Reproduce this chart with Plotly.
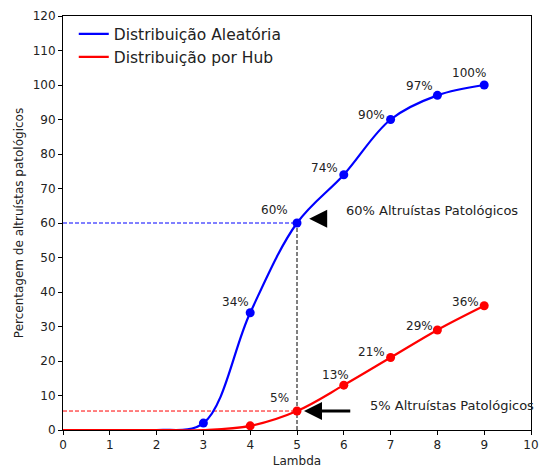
import plotly.graph_objects as go

lam = [0, 1, 2, 3, 4, 5, 6, 7, 8, 9]
aleatoria = [0, 0, 0, 2, 34, 60, 74, 90, 97, 100]
hub = [0, 0, 0, 0, 1.2, 5.5, 13, 21, 29, 36]

blue_marker_x = [3, 4, 5, 6, 7, 8, 9]
blue_marker_y = [2, 34, 60, 74, 90, 97, 100]
red_marker_x = [4, 5, 6, 7, 8, 9]
red_marker_y = [1.2, 5.5, 13, 21, 29, 36]

blue_lab_x = [4, 5, 6, 7, 8, 9]
blue_lab_y = [34, 60, 74, 90, 97, 100]
blue_labels = ["34%", "60%", "74%", "90%", "97%", "100%"]
red_lab_x = [5, 6, 7, 8, 9]
red_lab_y = [5.5, 13, 21, 29, 36]
red_labels = ["5%", "13%", "21%", "29%", "36%"]

lambda_ref = 5
blue_ref = 60
red_ref = 5.5

FONT = "DejaVu Sans"
TXT = "#222"
fig = go.Figure()

# reference dashed lines
fig.add_trace(go.Scatter(x=[0, lambda_ref], y=[blue_ref, blue_ref], mode="lines",
                         line=dict(color="blue", width=1, dash="4px,2px"), showlegend=False, hoverinfo="skip"))
fig.add_trace(go.Scatter(x=[0, lambda_ref], y=[red_ref, red_ref], mode="lines",
                         line=dict(color="red", width=1, dash="4px,2px"), showlegend=False, hoverinfo="skip"))
fig.add_trace(go.Scatter(x=[lambda_ref, lambda_ref], y=[0, blue_ref], mode="lines",
                         line=dict(color="black", width=1, dash="4px,2px"), showlegend=False, hoverinfo="skip"))

fig.add_trace(go.Scatter(x=lam, y=aleatoria, mode="lines", name="Distribuição Aleatória",
                         line=dict(color="blue", width=2.2, shape="spline", smoothing=1.0)))
fig.add_trace(go.Scatter(x=lam, y=hub, mode="lines", name="Distribuição por Hub",
                         line=dict(color="red", width=2.2, shape="spline", smoothing=1.0)))
fig.add_trace(go.Scatter(x=blue_marker_x, y=blue_marker_y, mode="markers",
                         marker=dict(color="blue", size=9), showlegend=False))
fig.add_trace(go.Scatter(x=red_marker_x, y=red_marker_y, mode="markers",
                         marker=dict(color="red", size=9), showlegend=False))

# value labels
blue_off = [(-15, 11), (-23, 13), (-19, 7), (-19, 5), (-18, 9), (-15, 12)]
red_off = [(-18, 13), (-8, 10), (-19, 6), (-18, 4), (-19, 4)]
for x, y, t, (dx, dy) in zip(blue_lab_x, blue_lab_y, blue_labels, blue_off):
    fig.add_annotation(x=x, y=y, text=t, showarrow=False, xshift=dx, yshift=dy,
                       font=dict(family=FONT, size=12, color=TXT))
for x, y, t, (dx, dy) in zip(red_lab_x, red_lab_y, red_labels, red_off):
    fig.add_annotation(x=x, y=y, text=t, showarrow=False, xshift=dx, yshift=dy,
                       font=dict(family=FONT, size=12, color=TXT))

# arrows
fig.add_annotation(x=5.26, y=61.2, ax=5.64, ay=61.2, axref="x", ayref="y", xref="x", yref="y",
                   text="", showarrow=True, arrowhead=2, arrowsize=1.2, arrowwidth=3, arrowcolor="black")
fig.add_annotation(x=5.15, y=red_ref, ax=6.17, ay=red_ref, axref="x", ayref="y", xref="x", yref="y",
                   text="", showarrow=True, arrowhead=2, arrowsize=1.2, arrowwidth=3, arrowcolor="black")
fig.add_annotation(x=6.0, y=63.5, text="60% Altruístas Patológicos", showarrow=False, xanchor="left",
                   font=dict(family=FONT, size=13, color=TXT))
fig.add_annotation(x=6.52, y=7.0, text="5% Altruístas Patológicos", showarrow=False, xanchor="left",
                   font=dict(family=FONT, size=13, color=TXT))

axis_common = dict(showgrid=False, zeroline=False, showline=True, linecolor="black", linewidth=1,
                   mirror=True, ticks="outside", ticklen=4, tickcolor="black", automargin=False,
                   tickfont=dict(family=FONT, size=12, color=TXT))
fig.update_xaxes(range=[0, 10], tickmode="linear", tick0=0, dtick=1,
                 title=dict(text="Lambda", font=dict(family=FONT, size=12, color=TXT), standoff=7),
                 **axis_common)
fig.update_yaxes(range=[0, 120], tickmode="linear", tick0=0, dtick=10,
                 title=dict(text="Percentagem de altruístas patológicos", font=dict(family=FONT, size=12, color=TXT), standoff=6),
                 **axis_common)

fig.update_layout(
    width=540, height=468,
    margin=dict(l=63, r=9, t=16, b=38, autoexpand=False),
    plot_bgcolor="white", paper_bgcolor="white",
    legend=dict(x=0.023, y=0.997, xanchor="left", yanchor="top", bgcolor="rgba(0,0,0,0)",
                font=dict(family=FONT, size=15.5, color=TXT), itemwidth=30, tracegroupgap=0),
    font=dict(family=FONT),
)

fig.write_html("out.html", config={"displayModeBar": False},
               post_script="document.body.style.margin='0';document.body.style.overflow='hidden';")
